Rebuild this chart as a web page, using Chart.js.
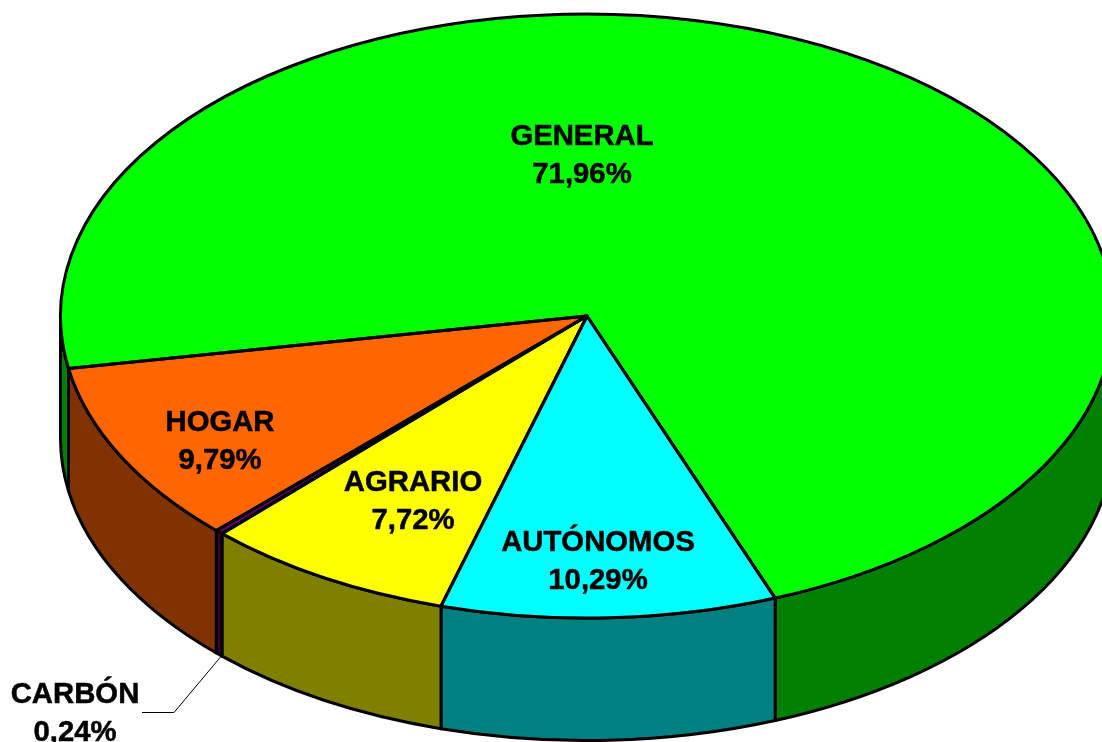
<!DOCTYPE html>
<html>
<head>
<meta charset="utf-8">
<style>html,body{margin:0;padding:0;background:#fff;overflow:hidden}canvas{display:block}</style>
<script src="https://cdn.jsdelivr.net/npm/chart.js@4"></script>
</head>
<body>
<canvas id="c" width="1102" height="742"></canvas>
<script>
const categories = ['GENERAL', 'AUTÓNOMOS', 'AGRARIO', 'CARBÓN', 'HOGAR'];
const shares = [71.96, 10.29, 7.72, 0.24, 9.79];
const shareLabels = ['71,96%', '10,29%', '7,72%', '0,24%', '9,79%'];
const topColors = ['#00FF00', '#00FFFF', '#FFFF00', '#660066', '#FF6600'];
const sideColors = ['#008000', '#008080', '#808000', '#330033', '#803300'];
const labelCenters = [[582, 145], [598, 551], [413, 491], [75, 703], [220, 431]];
const labelLeading = 38;

const view = { cx: 587, cy: 316, rx: 526.5, ry: 302, depth: 122.5, line: 3 };

function wallSpans(a, b) {
  const T = 2 * Math.PI, spans = [];
  const k0 = Math.floor(a / T) - 1;
  for (let k = k0; k <= k0 + 3; k++) {
    const s = Math.max(a, k * T), e = Math.min(b, k * T + Math.PI);
    if (e > s) spans.push([s, e]);
  }
  return spans;
}

const pie3d = {
  id: 'pie3d',
  beforeDatasetsDraw(chart) {
    const ctx = chart.ctx, arcs = chart.getDatasetMeta(0).data;
    const { cx, cy, rx, ry, depth, line } = view;
    ctx.save();
    ctx.lineWidth = line;
    ctx.strokeStyle = '#000';
    ctx.lineJoin = 'round';
    // walls, drawn from the library's own arc angles
    arcs.forEach((arc, i) => {
      wallSpans(arc.startAngle, arc.endAngle).forEach(([s, e]) => {
        ctx.beginPath();
        ctx.ellipse(cx, cy, rx, ry, 0, s, e, false);
        ctx.ellipse(cx, cy + depth, rx, ry, 0, e, s, true);
        ctx.closePath();
        ctx.fillStyle = sideColors[i];
        ctx.fill();
        ctx.stroke();
      });
    });
    ctx.restore();
    // squash the library's circular pie into the tilted ellipse
    const a = arcs[0], R = a.outerRadius;
    ctx.save();
    ctx.translate(cx, cy);
    ctx.scale(rx / R, ry / R);
    ctx.translate(-a.x, -a.y);
  },
  afterDatasetsDraw(chart) {
    const ctx = chart.ctx, arcs = chart.getDatasetMeta(0).data;
    ctx.restore();
    const { cx, cy, rx, ry, line } = view;
    ctx.save();
    ctx.lineWidth = line;
    ctx.strokeStyle = '#000';
    ctx.lineJoin = 'round';
    arcs.forEach(arc => {
      ctx.beginPath();
      ctx.moveTo(cx, cy);
      ctx.ellipse(cx, cy, rx, ry, 0, arc.startAngle, arc.endAngle, false);
      ctx.closePath();
      ctx.stroke();
    });
    // leader line for the small slice
    ctx.lineWidth = 1;
    ctx.beginPath();
    ctx.moveTo(220.5, 657);
    ctx.lineTo(174, 712.5);
    ctx.lineTo(142, 712.5);
    ctx.stroke();
    // labels
    ctx.fillStyle = '#000';
    ctx.strokeStyle = '#000';
    ctx.lineWidth = 0.5;
    ctx.font = 'bold 29.3px "Liberation Sans", Arial, sans-serif';
    ctx.textAlign = 'center';
    ctx.textBaseline = 'alphabetic';
    categories.forEach((name, i) => {
      const [x, y] = labelCenters[i];
      ctx.fillText(name, x, y);
      ctx.strokeText(name, x, y);
      ctx.fillText(shareLabels[i], x, y + labelLeading);
      ctx.strokeText(shareLabels[i], x, y + labelLeading);
    });
    ctx.restore();
  }
};

new Chart(document.getElementById('c'), {
  type: 'pie',
  data: {
    labels: categories,
    datasets: [{
      data: shares,
      backgroundColor: topColors,
      borderWidth: 0,
      clip: false
    }]
  },
  options: {
    responsive: false,
    animation: false,
    rotation: 260,
    layout: { padding: 0 },
    plugins: { legend: { display: false }, tooltip: { enabled: false }, title: { display: false } }
  },
  plugins: [pie3d]
});
</script>
</body>
</html>
